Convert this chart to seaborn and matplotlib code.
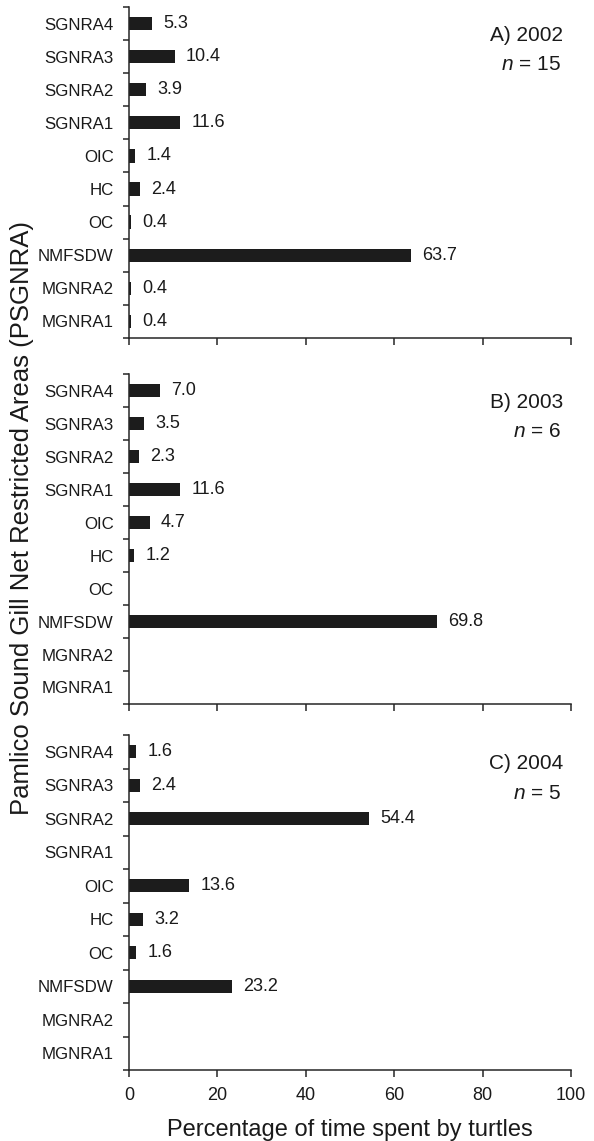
import numpy as np
import pandas as pd
import matplotlib
matplotlib.use("Agg")
import matplotlib.pyplot as plt
import seaborn as sns
from matplotlib.ticker import FixedLocator

# Data
areas = ["SGNRA4", "SGNRA3", "SGNRA2", "SGNRA1", "OIC", "HC", "OC",
         "NMFSDW", "MGNRA2", "MGNRA1"]
pct_2002 = [5.3, 10.4, 3.9, 11.6, 1.4, 2.4, 0.4, 63.7, 0.4, 0.4]
pct_2003 = [7.0, 3.5, 2.3, 11.6, 4.7, 1.2, np.nan, 69.8, np.nan, np.nan]
pct_2004 = [1.6, 2.4, 54.4, np.nan, 13.6, 3.2, 1.6, 23.2, np.nan, np.nan]
panel_titles = ["A) 2002", "B) 2003", "C) 2004"]
n_turtles = [15, 6, 5]
x_ticks = [0, 20, 40, 60, 80, 100]

sns.set_style("ticks")
plt.rcParams["font.family"] = ["Liberation Sans", "DejaVu Sans"]
plt.rcParams["mathtext.fontset"] = "custom"
plt.rcParams["mathtext.rm"] = "Liberation Sans"
plt.rcParams["mathtext.it"] = "Liberation Sans:italic"
plt.rcParams["axes.linewidth"] = 1.1
plt.rcParams["text.color"] = "#1a1a1a"

fig = plt.figure(figsize=(5.94, 11.41), dpi=100)

# axes boxes in figure fractions (left, bottom, width, height)
boxes = [
    (0.2172, 0.7038, 0.744, 0.2901),
    (0.2172, 0.3830, 0.744, 0.2892),
    (0.2172, 0.0622, 0.744, 0.2936),
]

series = [pct_2002, pct_2003, pct_2004]

for i, (vals, box) in enumerate(zip(series, boxes)):
    ax = fig.add_axes(box)
    df = pd.DataFrame({"area": areas, "pct": vals})
    sns.barplot(data=df.dropna(), x="pct", y="area", order=areas, orient="h",
                color="#1c1c1c", width=0.4, errorbar=None, saturation=1,
                edgecolor="none", ax=ax)
    ax.bar_label(ax.containers[0], fmt="%.1f", padding=8, fontsize=13,
                 color="#1a1a1a")

    ax.set_xlim(0, 100)
    ax.set_ylim(len(areas) - 0.5, -0.5)
    ax.set_xticks(x_ticks)
    ax.yaxis.set_minor_locator(FixedLocator(np.arange(-0.5, len(areas), 1.0)))
    ax.tick_params(axis="y", which="major", length=0, pad=11, labelsize=12.2,
                   labelcolor="#1a1a1a")
    ax.tick_params(axis="y", which="minor", length=4, width=1.1)
    ax.tick_params(axis="x", length=5, width=1.1, pad=7, labelsize=13,
                   labelcolor="#1a1a1a")
    ax.set_ylabel("")
    ax.set_xlabel("")
    if i < 2:
        ax.set_xticklabels([])
    else:
        ax.set_xlabel("Percentage of time spent by turtles", fontsize=17,
                      labelpad=11, color="#1a1a1a")
    sns.despine(ax=ax)

    ax.text(0.982, 0.915, panel_titles[i], transform=ax.transAxes,
            ha="right", va="center", fontsize=15)
    ax.text(0.978, 0.825, r"$n$ = %d" % n_turtles[i], transform=ax.transAxes,
            ha="right", va="center", fontsize=15)

fig.text(0.037, 0.546, "Pamlico Sound Gill Net Restricted Areas (PSGNRA)",
         rotation=90, ha="center", va="center", fontsize=18.5, color="#1a1a1a")

fig.savefig("out.png", dpi=100, facecolor="white")
